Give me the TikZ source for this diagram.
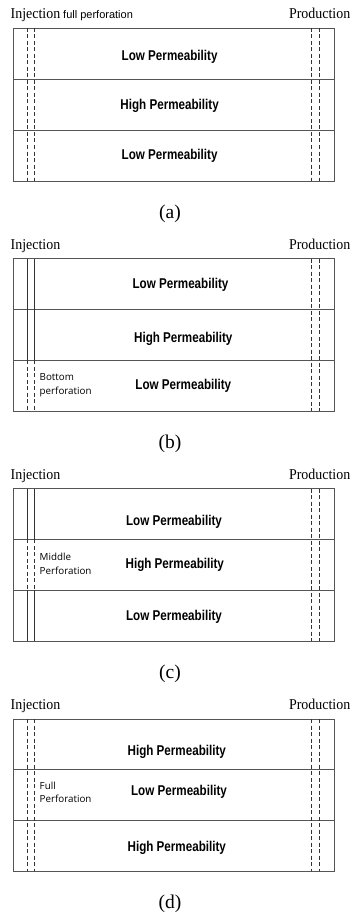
\documentclass[tikz,border=0pt]{standalone}
\usepackage{fontspec}
\setmainfont{Liberation Serif}
\newfontfamily\layerfont[FakeStretch=0.82]{Liberation Sans}
\newfontfamily\smallsans{Open Sans}
\newfontfamily\arialfont{Liberation Sans}
\newfontfamily\wellfont[FakeStretch=0.93]{Liberation Serif}
\definecolor{boxgray}{HTML}{555555}
\tikzset{
  layertext/.style={anchor=base, inner sep=0pt, font=\layerfont\bfseries\fontsize{14.2}{14}\selectfont},
  welltext/.style={anchor=base west, inner sep=0pt, font=\wellfont\fontsize{15}{15}\selectfont},
  welltextr/.style={anchor=base east, inner sep=0pt, font=\wellfont\fontsize{15}{15}\selectfont},
  perflabel/.style={anchor=north west, inner sep=0pt, align=left, font=\smallsans\fontsize{9.8}{13.5}\selectfont},
  captiontext/.style={anchor=base, inner sep=0pt, font=\fontsize{19.5}{19.5}\selectfont},
  boxline/.style={draw=boxgray, line width=0.9pt},
  layerline/.style={draw=boxgray, line width=0.9pt},
  wellsolid/.style={draw=black!80, line width=0.8pt},
  welldash/.style={draw=black!80, line width=0.8pt, dash pattern=on 4pt off 2.5pt},
}
\begin{document}
\begin{tikzpicture}[x=1pt,y=-1pt]
\useasboundingbox (0,0) rectangle (351,915);
% ---------- (a) ----------
\draw[boxline] (13,28) rectangle (334,181);
\draw[layerline] (13,79) -- (334,79);
\draw[layerline] (13,130) -- (334,130);
\draw[welldash] (27,28) -- (27,181);
\draw[welldash] (34,28) -- (34,181);
\draw[welldash] (311.7,28) -- (311.7,181);
\draw[welldash] (319.3,28) -- (319.3,181);
\node[welltext] (injA) at (10.5,19) {Injection};
\node[anchor=base west, inner sep=0pt, font=\arialfont\fontsize{11}{11}\selectfont] (fullA) at (63,19) {full perforation};
\node[welltextr] (prodA) at (350.5,19) {Production};
\node[layertext] (a1) at (169.6,61) {Low Permeability};
\node[layertext] (a2) at (169.6,109.7) {High Permeability};
\node[layertext] (a3) at (169.6,159.5) {Low Permeability};
\node[captiontext] (capA) at (170,218) {(a)};
% ---------- (b) ----------
\draw[boxline] (13,258.7) rectangle (334,411);
\draw[layerline] (13,309.3) -- (334,309.3);
\draw[layerline] (13,360.3) -- (334,360.3);
\draw[wellsolid] (27,258.7) -- (27,360.3);
\draw[wellsolid] (34,258.7) -- (34,360.3);
\draw[welldash] (27,360.3) -- (27,411);
\draw[welldash] (34,360.3) -- (34,411);
\draw[welldash] (311.7,258.7) -- (311.7,411);
\draw[welldash] (319.3,258.7) -- (319.3,411);
\node[welltext] (injB) at (10.5,249) {Injection};
\node[welltextr] (prodB) at (350.5,249) {Production};
\node[layertext] (b1) at (180.5,288.5) {Low Permeability};
\node[layertext] (b2) at (183.3,342.3) {High Permeability};
\node[layertext] (b3) at (183.3,389.3) {Low Permeability};
\node[perflabel] (pb) at (39.5,373.5) {Bottom\\perforation};
\node[captiontext] (capB) at (170,448) {(b)};
% ---------- (c) ----------
\draw[boxline] (13,488.7) rectangle (334,641);
\draw[layerline] (13,539.3) -- (334,539.3);
\draw[layerline] (13,590.3) -- (334,590.3);
\draw[wellsolid] (27,488.7) -- (27,539.3);
\draw[wellsolid] (34,488.7) -- (34,539.3);
\draw[welldash] (27,539.3) -- (27,590.3);
\draw[welldash] (34,539.3) -- (34,590.3);
\draw[wellsolid] (27,590.3) -- (27,641);
\draw[wellsolid] (34,590.3) -- (34,641);
\draw[welldash] (311.7,488.7) -- (311.7,641);
\draw[welldash] (319.3,488.7) -- (319.3,641);
\node[welltext] (injC) at (10.5,479) {Injection};
\node[welltextr] (prodC) at (350.5,479) {Production};
\node[layertext] (c1) at (174,525) {Low Permeability};
\node[layertext] (c2) at (174.8,568.8) {High Permeability};
\node[layertext] (c3) at (174,620.7) {Low Permeability};
\node[perflabel] (pc) at (39.5,553) {Middle\\Perforation};
\node[captiontext] (capC) at (170,678) {(c)};
% ---------- (d) ----------
\draw[boxline] (13,719) rectangle (334,871);
\draw[layerline] (13,769.3) -- (334,769.3);
\draw[layerline] (13,820) -- (334,820);
\draw[welldash] (27,719) -- (27,871);
\draw[welldash] (34,719) -- (34,871);
\draw[welldash] (311.7,719) -- (311.7,871);
\draw[welldash] (319.3,719) -- (319.3,871);
\node[welltext] (injD) at (10.5,709) {Injection};
\node[welltextr] (prodD) at (350.5,709) {Production};
\node[layertext] (d1) at (176.8,755.7) {High Permeability};
\node[layertext] (d2) at (179,795) {Low Permeability};
\node[layertext] (d3) at (176.8,851) {High Permeability};
\node[perflabel] (pd) at (39.5,781.5) {Full\\Perforation};
\node[captiontext] (capD) at (170,908) {(d)};
\end{tikzpicture}
\end{document}
